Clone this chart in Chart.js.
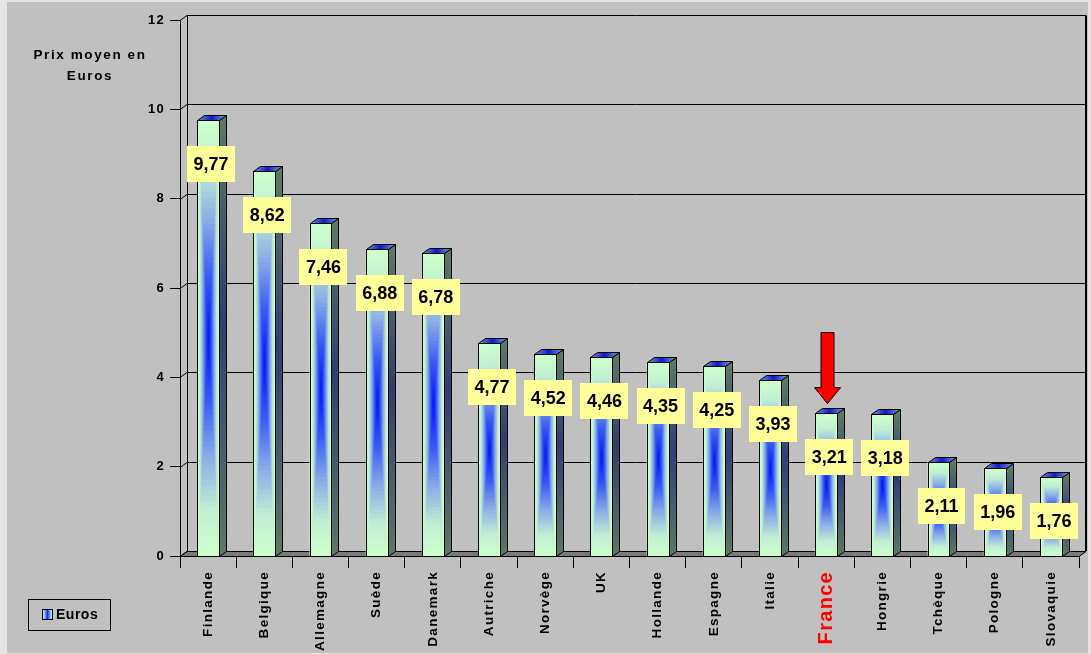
<!DOCTYPE html>
<html>
<head>
<meta charset="utf-8">
<script src="https://cdn.jsdelivr.net/npm/chart.js@4/dist/chart.umd.min.js"></script>
<style>
  html, body { margin: 0; padding: 0; background: #e4e4e4; }
  #wrap { width: 1091px; height: 654px; }
</style>
</head>
<body>
<div id="wrap"><canvas id="c" width="1091" height="654"></canvas></div>
<script>
// Prix moyen en euros par pays
const categories = ['Finlande', 'Belgique', 'Allemagne', 'Suède', 'Danemark', 'Autriche', 'Norvège', 'UK',
  'Hollande', 'Espagne', 'Italie', 'France', 'Hongrie', 'Tchèque', 'Pologne', 'Slovaquie'];
const prices = [9.77, 8.62, 7.46, 6.88, 6.78, 4.77, 4.52, 4.46, 4.35, 4.25, 3.93, 3.21, 3.18, 2.11, 1.96, 1.76];
const seriesName = 'Euros';
const axisTitleLines = ['Prix moyen en', 'Euros'];
const highlighted = 'France';

const FONT = '"Liberation Sans", Arial, sans-serif';
const DEPTH_X = 7;   // 3D depth offset
const DEPTH_Y = -5;

function hexToRgb(h) {
  const n = parseInt(h.slice(1), 16);
  return [(n >> 16) & 255, (n >> 8) & 255, n & 255];
}
function mixStops(stops, t) {
  for (let i = 0; i < stops.length - 1; i++) {
    const [t0, c0] = stops[i], [t1, c1] = stops[i + 1];
    if (t >= t0 && t <= t1) {
      const f = (t - t0) / (t1 - t0 || 1);
      const a = hexToRgb(c0), b = hexToRgb(c1);
      return `rgb(${a.map((v, k) => Math.round(v + (b[k] - v) * f)).join(',')})`;
    }
  }
  return stops[stops.length - 1][1];
}
// "from center" rectangular shading of a bar face
const faceStops = [[0, '#0010ff'], [0.3, '#3a5cf2'], [0.55, '#88aae8'], [0.8, '#c0eed4'], [1, '#ccffcc']];
function shadeRect(ctx, x, y, w, h) {
  const N = 40, cx = x + w / 2, cy = y + h / 2;
  for (let k = 0; k < N; k++) {
    const t = 1 - k / N;
    ctx.fillStyle = mixStops(faceStops, t);
    ctx.fillRect(cx - w * t / 2, cy - h * t / 2, w * t, h * t);
  }
}

const backdrop = {
  id: 'backdrop',
  beforeDraw(chart) {
    const ctx = chart.ctx;
    ctx.save();
    ctx.fillStyle = '#e4e4e4';
    ctx.fillRect(0, 0, chart.width, chart.height);
    ctx.fillStyle = '#c0c0c0';
    ctx.fillRect(7, 2, chart.width - 10, chart.height - 3);
    ctx.restore();
    ctx.letterSpacing = '1.3px';
  },
  beforeDatasetsDraw(chart) {
    const ctx = chart.ctx;
    const y = chart.scales.y, x = chart.scales.x;
    const L = x.left, R = x.right, T = y.top, B = y.bottom;
    ctx.save();
    ctx.strokeStyle = '#000';
    ctx.lineWidth = 1;
    // floor
    ctx.beginPath();
    ctx.moveTo(L, B + 0.5);
    ctx.lineTo(L + DEPTH_X, B + DEPTH_Y + 0.5);
    ctx.lineTo(R + DEPTH_X, B + DEPTH_Y + 0.5);
    ctx.lineTo(R, B + 0.5);
    ctx.closePath();
    ctx.fillStyle = '#7a7a7a';
    ctx.fill();
    ctx.stroke();
    // back wall gridlines and side wall edges
    y.ticks.forEach(tk => {
      const py = Math.round(y.getPixelForValue(tk.value)) + 0.5;
      ctx.beginPath();
      ctx.moveTo(L, py);
      ctx.lineTo(L + DEPTH_X, py + DEPTH_Y);
      ctx.lineTo(R + DEPTH_X, py + DEPTH_Y);
      ctx.stroke();
    });
    ctx.beginPath();
    ctx.moveTo(L + DEPTH_X + 0.5, T + DEPTH_Y);
    ctx.lineTo(L + DEPTH_X + 0.5, B + DEPTH_Y);
    ctx.stroke();
    ctx.lineWidth = 2;
    ctx.beginPath();
    ctx.moveTo(R + DEPTH_X, T + DEPTH_Y + 0.5);
    ctx.lineTo(R + DEPTH_X, B + DEPTH_Y);
    ctx.stroke();
    ctx.restore();
  }
};

const bars3d = {
  id: 'bars3d',
  afterDatasetsDraw(chart) {
    const ctx = chart.ctx;
    const meta = chart.getDatasetMeta(0);
    const values = chart.data.datasets[0].data;
    ctx.save();
    ctx.letterSpacing = '0px';
    meta.data.forEach((bar, i) => {
      const { x, y, base, width } = bar.getProps(['x', 'y', 'base', 'width'], true);
      const l = Math.round(x - width / 2), r = Math.round(x + width / 2);
      const t = Math.round(y), b = Math.round(base);
      // front face
      shadeRect(ctx, l + 1, t + 1, r - l - 1, b - t - 1);
      ctx.strokeStyle = '#000';
      ctx.lineWidth = 1;
      ctx.strokeRect(l + 0.5, t + 0.5, r - l, b - t);
      // side face
      const sg = ctx.createLinearGradient(0, t, 0, b);
      sg.addColorStop(0, '#5c7a64');
      sg.addColorStop(0.45, '#2f3e78');
      sg.addColorStop(1, '#5c7a64');
      ctx.beginPath();
      ctx.moveTo(r + 0.5, t + 0.5);
      ctx.lineTo(r + DEPTH_X + 0.5, t + DEPTH_Y + 0.5);
      ctx.lineTo(r + DEPTH_X + 0.5, b + DEPTH_Y + 0.5);
      ctx.lineTo(r + 0.5, b + 0.5);
      ctx.closePath();
      ctx.fillStyle = sg;
      ctx.fill();
      ctx.stroke();
      // top face
      const tg = ctx.createLinearGradient(l, 0, r + DEPTH_X, 0);
      tg.addColorStop(0, '#7c9ad0');
      tg.addColorStop(0.5, '#0a1ec8');
      tg.addColorStop(1, '#7c9ad0');
      ctx.beginPath();
      ctx.moveTo(l + 0.5, t + 0.5);
      ctx.lineTo(l + DEPTH_X + 0.5, t + DEPTH_Y + 0.5);
      ctx.lineTo(r + DEPTH_X + 0.5, t + DEPTH_Y + 0.5);
      ctx.lineTo(r + 0.5, t + 0.5);
      ctx.closePath();
      ctx.fillStyle = tg;
      ctx.fill();
      ctx.stroke();
    });
    // value labels
    ctx.font = `bold 18px ${FONT}`;
    ctx.textAlign = 'center';
    ctx.textBaseline = 'middle';
    meta.data.forEach((bar, i) => {
      const { x, y } = bar.getProps(['x', 'y'], true);
      const txt = values[i].toFixed(2).replace('.', ',');
      const w = ctx.measureText(txt).width + 13;
      const h = 36;
      const cx = x + 3, cy = y + 44;
      ctx.fillStyle = '#ffff99';
      ctx.fillRect(Math.round(cx - w / 2), Math.round(cy - h / 2), Math.round(w), h);
      ctx.fillStyle = '#000';
      ctx.fillText(txt, cx, cy + 1);
    });
    // arrow pointing at the highlighted country
    const hi = chart.data.labels.indexOf(highlighted);
    if (hi >= 0) {
      const { x, y } = meta.data[hi].getProps(['x', 'y'], true);
      const cx = Math.round(x) + 1.5, tip = y - 9;
      ctx.beginPath();
      ctx.moveTo(cx - 6.5, tip - 71);
      ctx.lineTo(cx + 6.5, tip - 71);
      ctx.lineTo(cx + 6.5, tip - 16);
      ctx.lineTo(cx + 13, tip - 16);
      ctx.lineTo(cx, tip);
      ctx.lineTo(cx - 13, tip - 16);
      ctx.lineTo(cx - 6.5, tip - 16);
      ctx.closePath();
      ctx.fillStyle = '#ff0000';
      ctx.fill();
      ctx.strokeStyle = '#000';
      ctx.lineWidth = 1;
      ctx.stroke();
    }
    ctx.restore();
  },
  afterDraw(chart) {
    const ctx = chart.ctx;
    ctx.save();
    // value axis title, set horizontally
    ctx.letterSpacing = '1.6px';
    ctx.font = `bold 13.5px ${FONT}`;
    ctx.fillStyle = '#000';
    ctx.textAlign = 'center';
    ctx.textBaseline = 'middle';
    axisTitleLines.forEach((line, k) => ctx.fillText(line, 90, 55 + k * 21));
    // legend box
    ctx.strokeStyle = '#000';
    ctx.lineWidth = 1;
    ctx.strokeRect(28.5, 599.5, 82, 31);
    const g = ctx.createLinearGradient(43, 0, 52, 0);
    g.addColorStop(0, '#ccffcc');
    g.addColorStop(0.5, '#1030ff');
    g.addColorStop(1, '#ccffcc');
    ctx.fillStyle = g;
    ctx.fillRect(43, 610, 9, 9);
    ctx.strokeRect(42.5, 609.5, 10, 10);
    ctx.fillStyle = '#000';
    ctx.textAlign = 'left';
    ctx.letterSpacing = '0.5px';
    ctx.font = `bold 14px ${FONT}`;
    ctx.fillText(chart.data.datasets[0].label, 56, 615);
    ctx.restore();
  }
};

new Chart(document.getElementById('c'), {
  type: 'bar',
  data: {
    labels: categories,
    datasets: [{
      label: seriesName,
      data: prices,
      backgroundColor: '#ccffcc',
      borderColor: '#000',
      borderWidth: 0,
      barPercentage: 0.39,
      categoryPercentage: 1
    }]
  },
  options: {
    responsive: false,
    animation: false,
    devicePixelRatio: 1,
    layout: { padding: { left: 100, top: 20, right: 12, bottom: 0 } },
    plugins: { legend: { display: false }, tooltip: { enabled: false } },
    scales: {
      x: {
        afterFit(s) { s.height = 98; },
        grid: { offset: true, drawOnChartArea: false, tickLength: 12, color: '#000', lineWidth: 1 },
        border: { display: true, color: '#000' },
        ticks: {
          minRotation: 90, maxRotation: 90, autoSkip: false, padding: 3,
          color: c => categories[c.index] === highlighted ? '#ff0000' : '#000',
          font: c => ({ family: FONT, weight: 'bold', size: categories[c.index] === highlighted ? 20 : 13.5 })
        }
      },
      y: {
        min: 0, max: 12,
        afterFit(s) { s.width = 80; },
        grid: { drawOnChartArea: false, tickLength: 10, color: '#000' },
        border: { display: true, color: '#000' },
        ticks: { stepSize: 2, padding: 5, color: '#000', font: { family: FONT, weight: 'bold', size: 13 } }
      }
    }
  },
  plugins: [backdrop, bars3d]
});
</script>
</body>
</html>
